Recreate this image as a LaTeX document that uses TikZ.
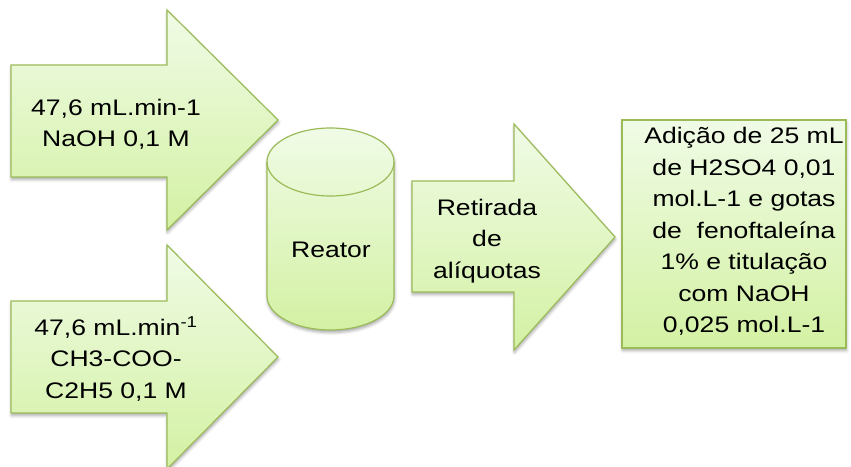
\documentclass[tikz,border=0pt]{standalone}
\usepackage{fontspec}
\setmainfont{Liberation Sans}[FakeStretch=1.18]
\usetikzlibrary{shadows.blur}
\definecolor{edge}{HTML}{9BBB59}
\definecolor{lighttop}{HTML}{F0FBE6}
\definecolor{lightbot}{HTML}{D3F1A3}
\tikzset{
  greenshape/.style={draw=edge, line width=1.2pt, top color=lighttop, bottom color=lightbot,
    blur shadow={shadow xshift=0.5pt, shadow yshift=-2.5pt, shadow blur radius=3pt, shadow opacity=35}},
  txt/.style={font=\fontsize{22.5}{31.5}\selectfont, align=center, inner sep=0pt, text=black},
}
\begin{document}
\begin{tikzpicture}[x=1pt,y=-1pt]
\useasboundingbox (0,0) rectangle (851,466);

% feed arrows
\path[greenshape] (11,65) -- (167,65) -- (167,10) -- (278,120) -- (167,230) -- (167,177) -- (11,177) -- cycle;
\path[greenshape] (11,301) -- (167,301) -- (167,245) -- (278,357) -- (167,469) -- (167,413) -- (11,413) -- cycle;

% reactor vessel (y axis points down, so angles run clockwise on the page)
\path[greenshape] (267,162) -- (267,296) arc[start angle=180, end angle=0, x radius=63.5, y radius=34]
  -- (394,162) arc[start angle=0, end angle=-180, x radius=63.5, y radius=34] -- cycle;
\draw[edge, line width=1.2pt] (267,162) arc[start angle=180, end angle=0, x radius=63.5, y radius=34];

% sampling arrow
\path[greenshape] (412,181) -- (514,181) -- (514,124) -- (615,237) -- (514,350) -- (514,292) -- (412,292) -- cycle;

% titration box
\path[greenshape] (622,120) rectangle (846,348);

\node[txt] (feedA) at (116,124.5) {47,6 mL.min-1\\NaOH 0,1 M};
\node[txt] (feedB) at (116,359) {47,6 mL.min\textsuperscript{-1}\\CH3-COO-\\C2H5 0,1 M};
\node[txt] (reactor) at (331,250) {Reator};
\node[txt] (sample) at (487,241) {Retirada\\de\\alíquotas};
\node[txt] (titration) at (744,231.7) {Adição de 25 mL\\de H2SO4 0,01\\mol.L-1 e gotas\\de~ fenoftaleína\\1\% e titulação\\com NaOH\\0,025 mol.L-1};
\end{tikzpicture}
\end{document}
